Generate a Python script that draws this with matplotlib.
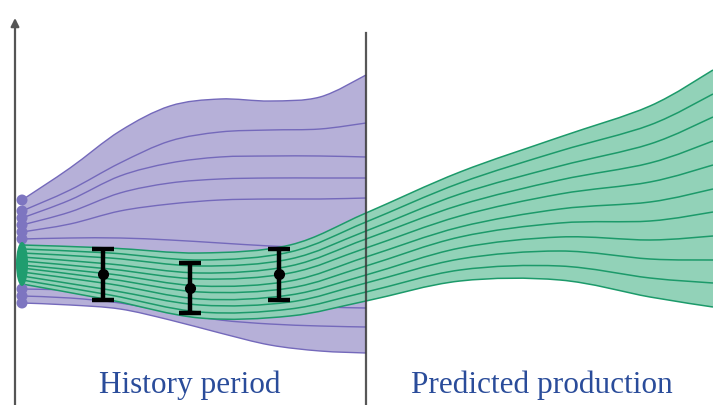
import numpy as np
import matplotlib
matplotlib.use("Agg")
import matplotlib.pyplot as plt
from matplotlib.path import Path
from matplotlib.patches import PathPatch, Ellipse

# ---------------- data (pixel-space schematic) ----------------
purple_x = [22, 70, 120, 170, 220, 270, 320, 366]
purple_top = [200, 168, 131, 106, 99, 101, 97, 75]
purple_l2 = [211, 190, 163, 141, 132, 130, 129, 123]
purple_l3 = [218, 200, 176, 163, 157, 156, 156, 157]
purple_l4 = [225, 212, 193, 183, 179, 178, 178, 178]
purple_l5 = [232, 224, 211, 204, 200, 199, 199, 198]
purple_l6 = [239, 238, 238, 240, 243, 246, 248, 250]
purple_l7 = [289, 290, 292, 297, 302, 305, 307, 308]
purple_l8 = [296, 298, 303, 312, 320, 324, 326, 327]
purple_bottom = [303, 305, 309, 320, 333, 345, 351, 353]

green_x = [22, 110, 200, 290, 366, 460, 560, 650, 713]
green_top = [245, 248, 253, 245, 213, 172, 137, 106, 70]
green_l1 = [249, 253, 260, 252, 222, 183, 151, 125, 94]
green_l2 = [253, 258, 266, 259, 231, 194, 166, 144, 117]
green_l3 = [257, 264, 273, 266, 239, 205, 180, 163, 141]
green_l4 = [261, 269, 279, 273, 248, 216, 194, 182, 165]
green_l5 = [265, 274, 286, 281, 257, 227, 209, 202, 189]
green_l6 = [268, 279, 292, 288, 266, 237, 223, 221, 212]
green_l7 = [272, 284, 299, 295, 275, 248, 237, 240, 236]
green_l8 = [276, 290, 305, 302, 283, 259, 251, 259, 260]
green_l9 = [280, 295, 312, 309, 292, 270, 266, 278, 283]
green_bottom = [284, 300, 318, 316, 301, 281, 280, 297, 307]

purple_dots_y = [200, 211, 218, 225, 232, 239, 289, 296, 303]

obs_x = [103, 190, 279]
obs_y = [274, 288, 274]
obs_err = [25.5, 25, 25.5]

labels = ["History period", "Predicted production"]
label_x = [190, 542]

# ---------------- colours ----------------
PURPLE_FILL = "#b6b0d8"
PURPLE_LINE = "#7469bb"
PURPLE_DOT = "#7d75c0"
GREEN_FILL = "#8fd1b6"
GREEN_LINE = "#1c9a6a"
GREEN_DOT = "#1f9d6f"
TEXT_COL = "#2a4c9a"


def smooth_codes_verts(xs, ys):
    """Catmull-Rom knots -> cubic Bezier vertices (drawn by matplotlib Path)."""
    p = np.column_stack([xs, ys]).astype(float)
    n = len(p)
    verts = [p[0]]
    codes = [Path.MOVETO]
    for i in range(n - 1):
        p0 = p[i - 1] if i > 0 else p[i]
        p1 = p[i]
        p2 = p[i + 1]
        p3 = p[i + 2] if i + 2 < n else p[i + 1]
        c1 = p1 + (p2 - p0) / 6.0
        c2 = p2 - (p3 - p1) / 6.0
        verts += [c1, c2, p2]
        codes += [Path.CURVE4] * 3
    return verts, codes


def curve(ax, xs, ys, **kw):
    v, c = smooth_codes_verts(xs, ys)
    ax.add_patch(PathPatch(Path(v, c), fill=False, **kw))


def band(ax, xs, top, bottom, **kw):
    v1, c1 = smooth_codes_verts(xs, top)
    v2, c2 = smooth_codes_verts(xs[::-1], bottom[::-1])
    c2 = [Path.LINETO] + c2[1:]
    verts = list(v1) + list(v2) + [v1[0]]
    codes = list(c1) + list(c2) + [Path.CLOSEPOLY]
    ax.add_patch(PathPatch(Path(verts, codes), **kw))


fig = plt.figure(figsize=(7.13, 4.05), dpi=100)
ax = fig.add_axes([0, 0, 1, 1])
ax.set_xlim(0, 713)
ax.set_ylim(405, 0)
ax.axis("off")

# purple band
band(ax, purple_x, purple_top, purple_bottom, facecolor=PURPLE_FILL, edgecolor="none", zorder=1)
for ys in [purple_top, purple_l2, purple_l3, purple_l4, purple_l5, purple_l6,
           purple_l7, purple_l8, purple_bottom]:
    curve(ax, purple_x, ys, edgecolor=PURPLE_LINE, lw=1.0, zorder=2)

# green band
band(ax, green_x, green_top, green_bottom, facecolor=GREEN_FILL, edgecolor="none", alpha=0.97, zorder=3)
green_lines = [green_top, green_l1, green_l2, green_l3, green_l4, green_l5,
               green_l6, green_l7, green_l8, green_l9, green_bottom]
for ys in green_lines:
    curve(ax, green_x, ys, edgecolor=GREEN_LINE, lw=1.1, zorder=4)

# separator line
ax.plot([366, 366], [33, 405], color="#3a3a3a", lw=1.6, alpha=0.85, zorder=5)

# left axis with arrow
ax.annotate("", xy=(15, 18), xytext=(15, 405),
            arrowprops=dict(arrowstyle="-|>", color="#555555", lw=1.6,
                            mutation_scale=12, shrinkA=0, shrinkB=0), zorder=6)

# starting dots
for y in purple_dots_y:
    ax.add_patch(Ellipse((22, y), 11, 11, facecolor=PURPLE_DOT, edgecolor="none", zorder=7))
ax.add_patch(Ellipse((22, 264), 12, 44, facecolor=GREEN_DOT, edgecolor="none", zorder=8))

# observations with error bars
ax.errorbar(obs_x, obs_y, yerr=obs_err, fmt="o", color="black", ms=7,
            elinewidth=3.2, capsize=8, capthick=3.2, zorder=9)

for t, x in zip(labels, label_x):
    ax.text(x, 393, t, ha="center", va="baseline", fontsize=22.5,
            family="Liberation Serif", color=TEXT_COL, zorder=10)

fig.savefig("out.png", dpi=100)
